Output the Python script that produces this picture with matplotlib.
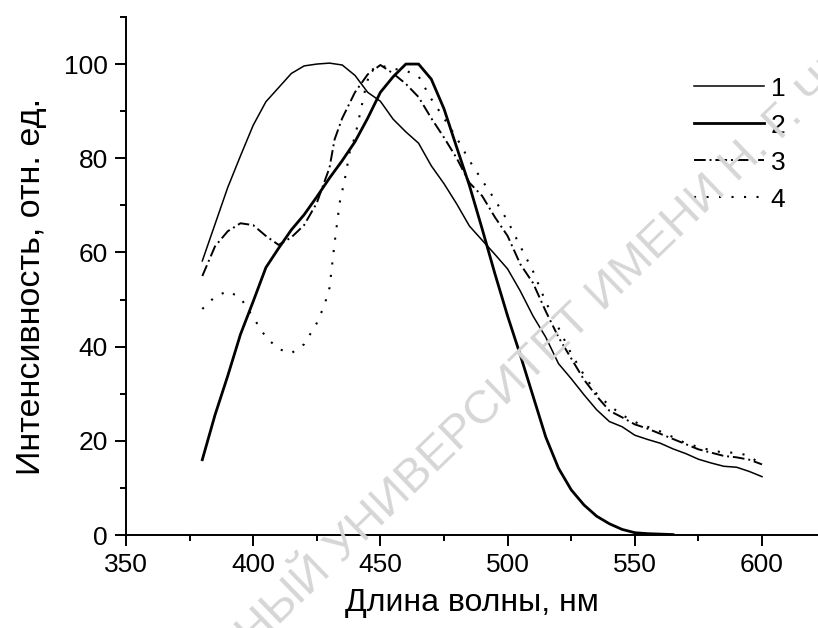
import matplotlib
matplotlib.use("Agg")
import matplotlib.pyplot as plt
from matplotlib.ticker import MultipleLocator

plt.rcParams['font.family'] = ['Liberation Sans', 'DejaVu Sans']

# emission spectra, normalised to 100
wl_1 = [380, 385, 390, 395, 400, 405, 410, 415, 420, 425, 430, 435, 440, 445,
        450, 455, 460, 465, 470, 475, 480, 485, 490, 495, 500, 505, 510, 515,
        520, 525, 530, 535, 540, 545, 550, 555, 560, 565, 570, 575, 580, 585,
        590, 595, 600]
int_1 = [58.2, 66, 73.8, 80.5, 87, 92, 95, 98, 99.6, 100, 100.2, 99.8, 97.6, 94,
         92.1, 88.3, 85.6, 83.2, 78.4, 74.6, 70.3, 65.6, 62.6, 59.6, 56.5, 51.8,
         46.5, 42, 36.4, 33.2, 29.8, 26.6, 24.1, 23, 21.2, 20.3, 19.5, 18.3, 17.3,
         16.1, 15.3, 14.6, 14.4, 13.5, 12.4]

wl_2 = [380, 385, 390, 395, 400, 405, 410, 415, 420, 425, 430, 435, 440, 445,
        450, 455, 460, 465, 470, 475, 480, 485, 490, 495, 500, 505, 510, 515,
        520, 525, 530, 535, 540, 545, 550, 555, 560, 565]
int_2 = [16, 25.5, 33.8, 42.6, 49.6, 56.8, 60.9, 64.8, 68, 71.8, 75.8, 79.5,
         83.5, 88.5, 94, 97.3, 100, 100, 96.8, 90.5, 82.3, 74.2, 65, 55.5, 46.5,
         38.2, 29.5, 20.8, 14.2, 9.6, 6.4, 4.0, 2.4, 1.2, 0.5, 0.3, 0.2, 0.1]

wl_3 = [380, 385, 390, 395, 400, 405, 410, 415, 420, 425, 430, 432, 435, 440,
        445, 450, 455, 460, 465, 470, 475, 480, 485, 490, 495, 500, 505, 510,
        515, 520, 525, 530, 535, 540, 545, 550, 555, 560, 565, 570, 575, 580,
        585, 590, 595, 600]
int_3 = [55, 61.3, 64.5, 66.2, 65.8, 63.5, 61.6, 63.2, 65.8, 70.5, 78, 84,
         88.5, 94, 97.8, 99.8, 98, 95.8, 93, 88.5, 84.4, 80, 74.8, 72, 67.5,
         63.5, 57.5, 53.5, 47.5, 42, 37.5, 33, 29.5, 26.4, 25, 23.5, 22.6, 21.5,
         20.4, 19.3, 18.2, 17.5, 16.8, 16.5, 16, 15]

wl_4 = [380, 385, 390, 395, 400, 405, 410, 415, 420, 425, 428, 430, 432, 434,
        436, 438, 440, 442, 444, 446, 450, 455, 460, 465, 470, 475, 480, 485,
        490, 495, 500, 505, 510, 515, 520, 525, 530, 535, 540, 545, 550, 555,
        560, 565, 570, 575, 580, 585, 590, 595, 600]
int_4 = [48, 50.6, 51.8, 50.4, 46.2, 42, 39.5, 38.6, 40.5, 45, 48.8, 52.5,
         62, 70.6, 75.5, 81.5, 84.5, 89.5, 94.5, 98.6, 99.7, 99, 98.6, 97.4,
         92.6, 88.5, 84.3, 79.5, 75.3, 71.2, 66.7, 61.3, 56, 49.5, 44, 38.5,
         34, 30, 27.5, 25.5, 24, 23, 22, 20.8, 19.5, 18.7, 18, 17.5, 17.5,
         16.8, 14.8]

labels = ['1', '2', '3', '4']

fig = plt.figure(figsize=(8.18, 6.28), dpi=100)
ax = fig.add_axes([0.154, 0.148, 0.846, 0.825])

# faint diagonal stamp behind the plot
wm_kw = dict(rotation=44, rotation_mode='anchor', va='baseline', fontsize=34,
             color='#d6d6d6', zorder=0, transform=fig.transFigure)
fig.text(0.418, 0.102, 'ГОСУДАРСТВЕННЫЙ ', ha='right', **wm_kw)
fig.text(0.418, 0.102, 'УНИВЕРСИТЕТ ИМЕНИ Н. Г. ЧЕРНЫШЕВСКОГО', ha='left', **wm_kw)

ax.patch.set_alpha(0)
ax.plot(wl_1, int_1, color='black', lw=1.1, label=labels[0])
ax.plot(wl_2, int_2, color='black', lw=2.0, label=labels[1])
ax.plot(wl_3, int_3, color='black', lw=1.4, linestyle=(0, (6, 2, 1, 2)), label=labels[2])
ax.plot(wl_4, int_4, color='black', lw=1.5, linestyle=(0, (1, 5)), label=labels[3])

ax.set_xlim(350, 622)
ax.set_ylim(0, 110)
ax.xaxis.set_major_locator(MultipleLocator(50))
ax.xaxis.set_minor_locator(MultipleLocator(25))
ax.yaxis.set_major_locator(MultipleLocator(20))
ax.yaxis.set_minor_locator(MultipleLocator(10))
ax.tick_params(which='major', length=8, width=1.4, labelsize=19, pad=5)
ax.tick_params(which='minor', length=4.5, width=1.4)

for side in ('top', 'right'):
    ax.spines[side].set_visible(False)
for side in ('left', 'bottom'):
    ax.spines[side].set_linewidth(1.4)

ax.set_xlabel('Длина волны, нм', fontsize=23, labelpad=8)
ax.set_ylabel('Интенсивность, отн. ед.', fontsize=24.5)
ax.yaxis.set_label_coords(-0.114, 0.479)

ax.legend(loc='upper left', bbox_to_anchor=(0.805, 0.905), frameon=False,
          fontsize=19, handlelength=2.65, handletextpad=0.27,
          labelspacing=0.49, borderaxespad=0.0)

fig.savefig('out.png', dpi=100)
